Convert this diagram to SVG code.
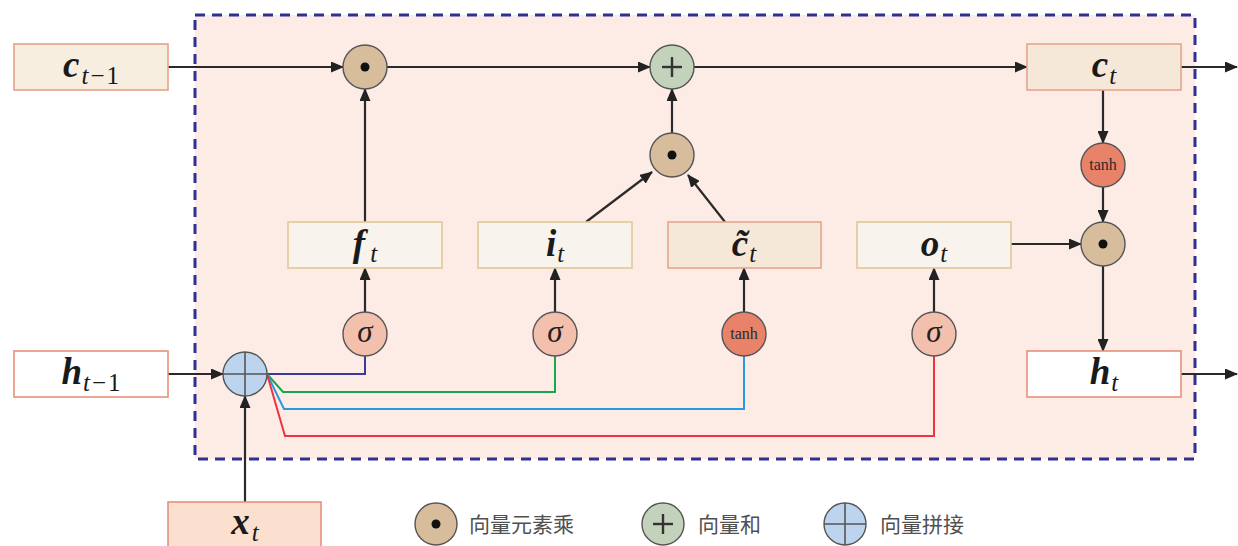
<svg xmlns="http://www.w3.org/2000/svg" width="1238" height="546" viewBox="0 0 1238 546">
<defs>
<marker id="ah" markerUnits="userSpaceOnUse" markerWidth="13" markerHeight="11" refX="12" refY="5.5" orient="auto">
<path d="M0,0 L13,5.5 L0,11 z" fill="#222"/>
</marker>
<style>
.ln{stroke:#2a2a2a;stroke-width:2.2;fill:none}
.a{marker-end:url(#ah)}
.gate{fill:#f8f3ec;stroke:#e0c797;stroke-width:1.6}
.cell{fill:#f6e8d8;stroke:#e6a58e;stroke-width:1.6}
.hb{fill:#ffffff;stroke:#e8907a;stroke-width:1.6}
.circ{stroke:#555;stroke-width:1.4}
.mul{fill:#d8bd9c}
.add{fill:#c3d3bb}
.cat{fill:#bcd4ee}
.sig{fill:#f4c0ae}
.th{fill:#e8836a}
.m{font-family:"Liberation Serif","DejaVu Serif",serif;fill:#1a1a1a}
.bv{font-weight:bold;font-style:italic;font-size:37px}
.sb{font-style:italic;font-size:25px}
.up{font-style:normal}
.sg{font-family:"Liberation Serif",serif;font-style:italic;font-size:31px;fill:#222}
.tn{font-family:"Liberation Serif",serif;font-size:16px;fill:#2a2a2a}
.lg{font-family:"Noto Sans CJK SC",sans-serif;font-size:21px;fill:#505050}
.cr{stroke:#333;stroke-width:2.4}
.cc{stroke:#555;stroke-width:1.6}
</style>
</defs>
<g id="frame">
<rect x="195" y="15" width="1000" height="444" fill="#fdece6" stroke="#2e3192" stroke-width="3" stroke-dasharray="10 7"/>
</g>
<g id="connectors">
<line class="ln a" x1="168" y1="67" x2="343" y2="67"/>
<line class="ln a" x1="387" y1="67" x2="650" y2="67"/>
<line class="ln a" x1="694" y1="67" x2="1027" y2="67"/>
<line class="ln a" x1="1181" y1="67" x2="1237" y2="67"/>
<line class="ln a" x1="365" y1="222" x2="365" y2="89"/>
<line class="ln a" x1="365" y1="312" x2="365" y2="268"/>
<line class="ln a" x1="555" y1="312" x2="555" y2="268"/>
<line class="ln a" x1="744" y1="312" x2="744" y2="268"/>
<line class="ln a" x1="934" y1="312" x2="934" y2="268"/>
<line class="ln a" x1="586" y1="222" x2="652" y2="172"/>
<line class="ln a" x1="725" y1="222" x2="688" y2="175"/>
<line class="ln a" x1="672" y1="133" x2="672" y2="89"/>
<line class="ln a" x1="1103" y1="90" x2="1103" y2="143"/>
<line class="ln a" x1="1103" y1="187" x2="1103" y2="222"/>
<line class="ln a" x1="1011" y1="244" x2="1081" y2="244"/>
<line class="ln a" x1="1103" y1="266" x2="1103" y2="351"/>
<line class="ln a" x1="1181" y1="374" x2="1237" y2="374"/>
<line class="ln a" x1="168" y1="374" x2="223" y2="374"/>
<line class="ln a" x1="245" y1="502" x2="245" y2="396"/>
<polyline points="267,374 365,374 365,356" fill="none" stroke="#3a3a9a" stroke-width="2"/>
<polyline points="267,374 283,392 555,392 555,356" fill="none" stroke="#1aa64a" stroke-width="2"/>
<polyline points="267,374 284,409 744,409 744,356" fill="none" stroke="#2a9ae0" stroke-width="2"/>
<polyline points="267,374 285,436 934,436 934,356" fill="none" stroke="#ee3340" stroke-width="2"/>
</g>
<g id="c_prev">
<rect x="14" y="44" width="154" height="46" fill="#f7eee0" stroke="#e8a08a" stroke-width="1.6"/>
<text class="m" x="91" y="77" text-anchor="middle"><tspan class="bv">c</tspan><tspan class="sb" dx="2" dy="7">t</tspan><tspan class="sb up" dx="2">−</tspan><tspan class="sb up" dx="2">1</tspan></text>
</g>
<g id="h_prev">
<rect class="hb" x="14" y="351" width="154" height="46"/>
<text class="m" x="91" y="384" text-anchor="middle"><tspan class="bv">h</tspan><tspan class="sb" dx="1" dy="7">t</tspan><tspan class="sb up" dx="2">−</tspan><tspan class="sb up" dx="2">1</tspan></text>
</g>
<g id="x_t">
<rect x="168" y="502" width="153" height="60" fill="#fbe0d0" stroke="#e8907a" stroke-width="1.6"/>
<text class="m" x="245" y="534" text-anchor="middle"><tspan class="bv">x</tspan><tspan class="sb" dx="2" dy="7">t</tspan></text>
</g>
<g id="f_t">
<rect class="gate" x="288" y="222" width="154" height="46"/>
<text class="m" x="365" y="256" text-anchor="middle"><tspan class="bv">f</tspan><tspan class="sb" dx="5" dy="6">t</tspan></text>
</g>
<g id="i_t">
<rect class="gate" x="478" y="222" width="154" height="46"/>
<text class="m" x="555" y="256" text-anchor="middle"><tspan class="bv">i</tspan><tspan class="sb" dx="1" dy="6">t</tspan></text>
</g>
<g id="ctilde_t">
<rect class="cell" x="668" y="222" width="153" height="46"/>
<text class="m" x="744" y="256" text-anchor="middle"><tspan class="bv">c̃</tspan><tspan class="sb" dx="1" dy="6">t</tspan></text>
</g>
<g id="o_t">
<rect class="gate" x="857" y="222" width="154" height="46"/>
<text class="m" x="934" y="256" text-anchor="middle"><tspan class="bv">o</tspan><tspan class="sb" dx="1" dy="6">t</tspan></text>
</g>
<g id="c_t">
<rect class="cell" x="1027" y="44" width="154" height="46"/>
<text class="m" x="1104" y="77" text-anchor="middle"><tspan class="bv">c</tspan><tspan class="sb" dx="1" dy="7">t</tspan></text>
</g>
<g id="h_t">
<rect class="hb" x="1027" y="351" width="154" height="46"/>
<text class="m" x="1104" y="384" text-anchor="middle"><tspan class="bv">h</tspan><tspan class="sb" dx="1" dy="7">t</tspan></text>
</g>
<g id="mul_forget">
<circle class="circ mul" cx="365" cy="67" r="22"/>
<circle cx="365" cy="67" r="4.5" fill="#111"/>
</g>
<g id="add_cell">
<circle class="circ add" cx="672" cy="67" r="22"/>
<line class="cr" x1="662" y1="67" x2="682" y2="67"/>
<line class="cr" x1="672" y1="57" x2="672" y2="77"/>
</g>
<g id="mul_input">
<circle class="circ mul" cx="672" cy="155" r="22"/>
<circle cx="672" cy="155" r="4.5" fill="#111"/>
</g>
<g id="tanh_out">
<circle class="circ th" cx="1103" cy="165" r="22"/>
<text class="tn" x="1103" y="170" text-anchor="middle">tanh</text>
</g>
<g id="mul_out">
<circle class="circ mul" cx="1103" cy="244" r="22"/>
<circle cx="1103" cy="244" r="4.5" fill="#111"/>
</g>
<g id="sigma_f">
<circle class="circ sig" cx="365" cy="334" r="22"/>
<text class="sg" x="365" y="342" text-anchor="middle">σ</text>
</g>
<g id="sigma_i">
<circle class="circ sig" cx="555" cy="334" r="22"/>
<text class="sg" x="555" y="342" text-anchor="middle">σ</text>
</g>
<g id="tanh_c">
<circle class="circ th" cx="744" cy="334" r="22"/>
<text class="tn" x="744" y="339" text-anchor="middle">tanh</text>
</g>
<g id="sigma_o">
<circle class="circ sig" cx="934" cy="334" r="22"/>
<text class="sg" x="934" y="342" text-anchor="middle">σ</text>
</g>
<g id="concat">
<circle class="circ cat" cx="245" cy="374" r="22"/>
<line class="cc" x1="223" y1="374" x2="267" y2="374"/>
<line class="cc" x1="245" y1="352" x2="245" y2="396"/>
</g>
<g id="legend">
<circle class="circ mul" cx="436" cy="524" r="21"/>
<circle cx="436" cy="524" r="4.5" fill="#111"/>
<text class="lg" x="469" y="532">向量元素乘</text>
<circle class="circ add" cx="663" cy="524" r="21"/>
<line class="cr" x1="653" y1="524" x2="673" y2="524"/>
<line class="cr" x1="663" y1="514" x2="663" y2="534"/>
<text class="lg" x="698" y="532">向量和</text>
<circle class="circ cat" cx="845" cy="524" r="21"/>
<line class="cc" x1="824" y1="524" x2="866" y2="524"/>
<line class="cc" x1="845" y1="503" x2="845" y2="545"/>
<text class="lg" x="880" y="532">向量拼接</text>
</g>
</svg>
